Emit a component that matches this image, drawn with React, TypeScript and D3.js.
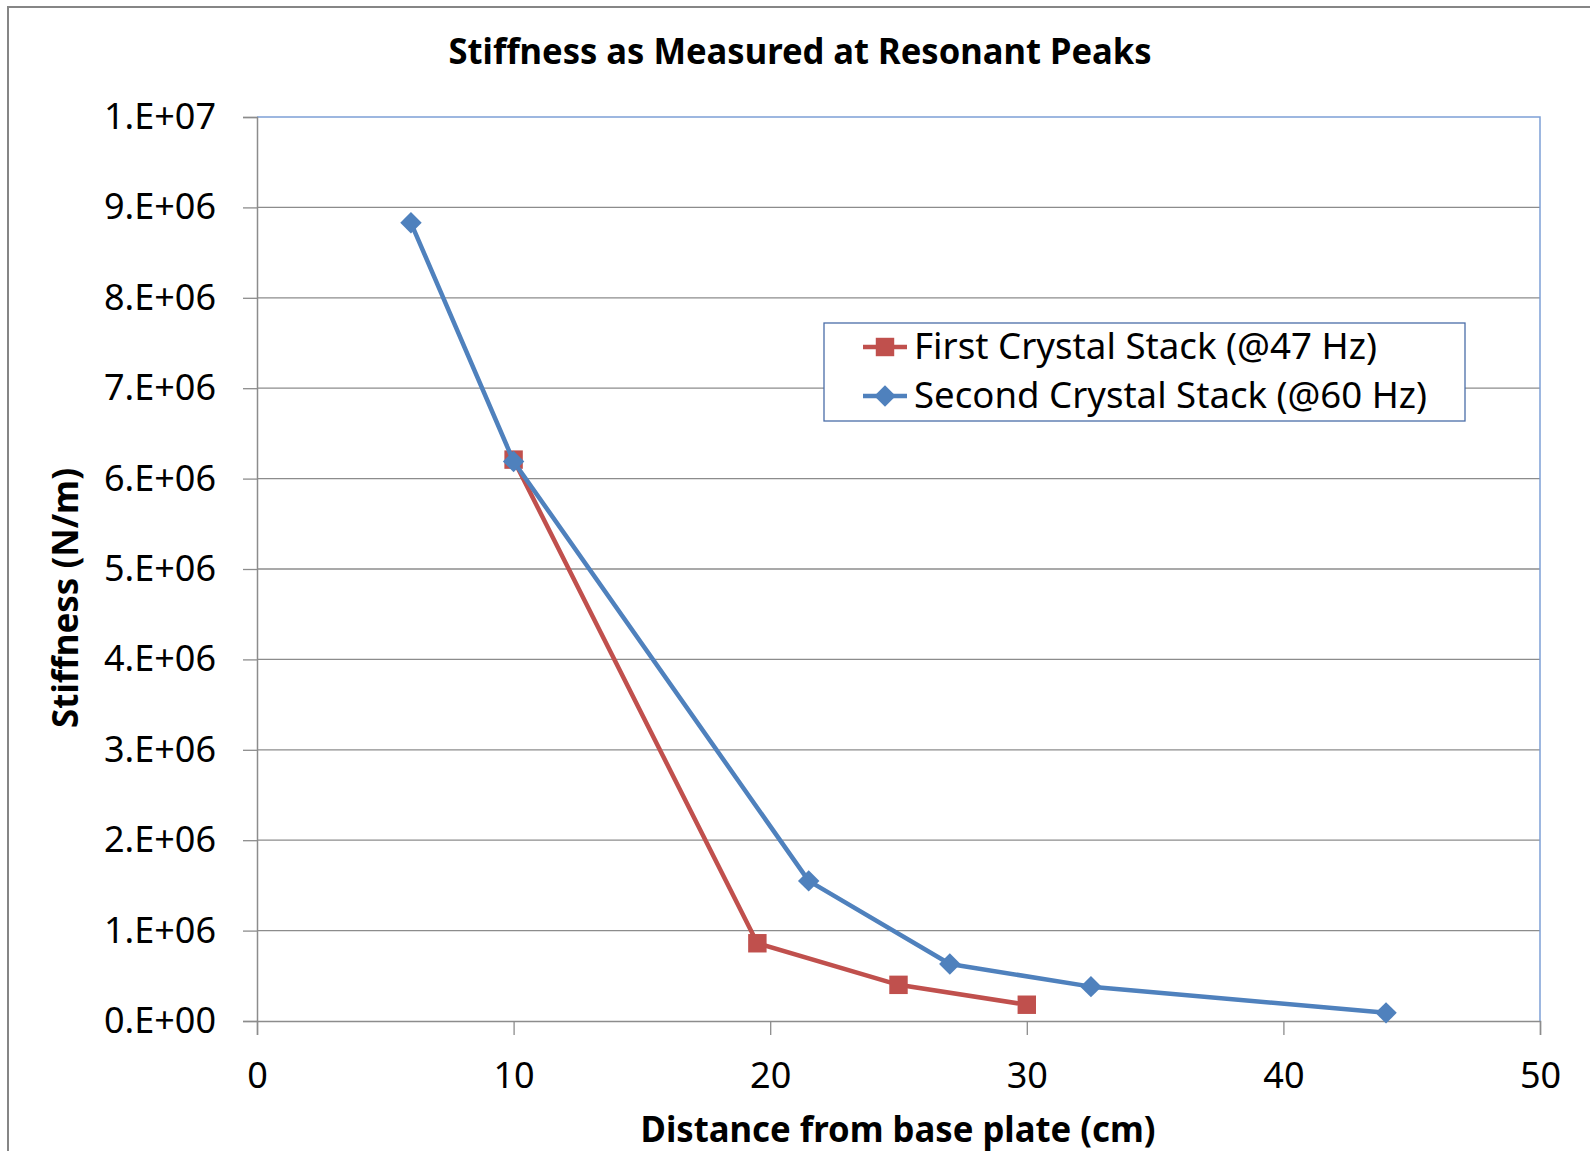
import { useEffect, useRef } from 'react';
import * as d3 from 'd3';

const firstX = [10, 19.5, 25, 30];
const firstY = [6.21e6, 8.6e5, 4.0e5, 1.8e5];
const secondX = [6, 10, 21.5, 27, 32.5, 44];
const secondY = [8.83e6, 6.19e6, 1.55e6, 6.3e5, 3.8e5, 9e4];
const xTicks = [0, 10, 20, 30, 40, 50];
const yTicks = [0, 1e6, 2e6, 3e6, 4e6, 5e6, 6e6, 7e6, 8e6, 9e6, 1e7];
const seriesNames = ['First Crystal Stack (@47 Hz)', 'Second Crystal Stack (@60 Hz)'];

const RED = '#C0504D';
const BLUE = '#4F81BD';
const FONT = '"Noto Sans", "Open Sans", sans-serif';

const App = () => {
  const svgRef = useRef<SVGSVGElement>(null);

  useEffect(() => {
    const width = 1590;
    const height = 1151;
    const margin = { top: 117, right: 50, bottom: 130, left: 257 };

    const svg = d3.select(svgRef.current).attr('width', width).attr('height', height);
    svg.selectAll('*').remove();

    svg
      .append('rect')
      .attr('x', 8)
      .attr('y', 7)
      .attr('width', 1700)
      .attr('height', 1300)
      .attr('fill', '#fff')
      .attr('stroke', '#868686')
      .attr('stroke-width', 2);

    const x = d3.scaleLinear().domain([0, 50]).range([margin.left, width - margin.right]);
    const y = d3.scaleLinear().domain([0, 1e7]).range([1021, margin.top]);

    // gridlines
    svg
      .append('g')
      .selectAll('line')
      .data(yTicks.slice(1, -1))
      .join('line')
      .attr('x1', x(0))
      .attr('x2', x(50))
      .attr('y1', (d) => y(d))
      .attr('y2', (d) => y(d))
      .attr('stroke', '#8c8c8c')
      .attr('stroke-width', 1.3);

    // plot border top/right (light blue)
    svg
      .append('path')
      .attr('d', `M${x(0)},${y(1e7)}H${x(50)}V${y(0)}`)
      .attr('fill', 'none')
      .attr('stroke', '#7EA0D6')
      .attr('stroke-width', 1.5);

    const fmt = (d: number) => {
      if (d === 0) return '0.E+00';
      const e = Math.floor(Math.log10(d));
      return `${Math.round(d / 10 ** e)}.E+${String(e).padStart(2, '0')}`;
    };

    const yAxis = svg
      .append('g')
      .attr('transform', `translate(${x(0)},0)`)
      .call(d3.axisLeft(y).tickValues(yTicks).tickFormat((d) => fmt(+d)).tickSize(14).tickPadding(27));
    yAxis.select('.domain').attr('stroke', '#8c8c8c').attr('stroke-width', 1.5);
    yAxis.selectAll('.tick line').attr('stroke', '#8c8c8c').attr('stroke-width', 1.3);
    yAxis
      .selectAll('.tick text')
      .attr('fill', '#000')
      .style('font-family', FONT)
      .style('font-size', '36px');

    const xAxis = svg
      .append('g')
      .attr('transform', `translate(0,${y(0)})`)
      .call(d3.axisBottom(x).tickValues(xTicks).tickSize(14).tickPadding(27));
    xAxis.select('.domain').attr('stroke', '#8c8c8c').attr('stroke-width', 1.5);
    xAxis.selectAll('.tick line').attr('stroke', '#8c8c8c').attr('stroke-width', 1.3);
    xAxis
      .selectAll('.tick text')
      .attr('fill', '#000')
      .style('font-family', FONT)
      .style('font-size', '36px');

    // titles
    svg
      .append('text')
      .attr('x', 800)
      .attr('y', 64)
      .attr('text-anchor', 'middle')
      .attr('textLength', 703)
      .attr('lengthAdjust', 'spacingAndGlyphs')
      .style('font-family', FONT)
      .style('font-weight', 'bold')
      .style('font-size', '35px')
      .text('Stiffness as Measured at Resonant Peaks');

    svg
      .append('text')
      .attr('x', 898)
      .attr('y', 1142)
      .attr('text-anchor', 'middle')
      .attr('textLength', 515)
      .attr('lengthAdjust', 'spacingAndGlyphs')
      .style('font-family', FONT)
      .style('font-weight', 'bold')
      .style('font-size', '35px')
      .text('Distance from base plate (cm)');

    svg
      .append('text')
      .attr('transform', 'translate(78,598) rotate(-90)')
      .attr('text-anchor', 'middle')
      .attr('textLength', 260)
      .attr('lengthAdjust', 'spacingAndGlyphs')
      .style('font-family', FONT)
      .style('font-weight', 'bold')
      .style('font-size', '35px')
      .text('Stiffness (N/m)');

    const line = d3
      .line<[number, number]>()
      .x((d) => x(d[0]))
      .y((d) => y(d[1]));

    const first = firstX.map((v, i) => [v, firstY[i]] as [number, number]);
    const second = secondX.map((v, i) => [v, secondY[i]] as [number, number]);

    const square = d3.symbol(d3.symbolSquare, 340);
    const diamond = d3.symbol(d3.symbolSquare, 230);

    svg
      .append('path')
      .datum(first)
      .attr('d', line)
      .attr('fill', 'none')
      .attr('stroke', RED)
      .attr('stroke-width', 4.5)
      .attr('stroke-linejoin', 'round');

    svg
      .append('g')
      .selectAll('path')
      .data(first)
      .join('path')
      .attr('transform', (d) => `translate(${x(d[0])},${y(d[1])})`)
      .attr('d', square)
      .attr('fill', RED);

    svg
      .append('path')
      .datum(second)
      .attr('d', line)
      .attr('fill', 'none')
      .attr('stroke', BLUE)
      .attr('stroke-width', 4.5)
      .attr('stroke-linejoin', 'round');

    svg
      .append('g')
      .selectAll('path')
      .data(second)
      .join('path')
      .attr('transform', (d) => `translate(${x(d[0])},${y(d[1])}) rotate(45)`)
      .attr('d', diamond)
      .attr('fill', BLUE);

    // legend
    const legend = svg.append('g');
    legend
      .append('rect')
      .attr('x', 824)
      .attr('y', 323)
      .attr('width', 641)
      .attr('height', 98)
      .attr('fill', '#fff')
      .attr('stroke', '#4A6DA8')
      .attr('stroke-width', 1.3);

    const colors = [RED, BLUE];
    const rows = legend
      .selectAll('g.row')
      .data(seriesNames)
      .join('g')
      .attr('class', 'row')
      .attr('transform', (_, i) => `translate(0,${347 + i * 49})`);

    rows
      .append('line')
      .attr('x1', 863)
      .attr('x2', 907)
      .attr('stroke', (_, i) => colors[i])
      .attr('stroke-width', 4.5);

    rows
      .append('path')
      .attr('transform', (_, i) => (i === 0 ? 'translate(885,0)' : 'translate(885,0) rotate(45)'))
      .attr('d', (_, i) => (i === 0 ? square() : diamond()))
      .attr('fill', (_, i) => colors[i]);

    rows
      .append('text')
      .attr('x', 914)
      .attr('y', 12)
      .attr('textLength', (_, i) => (i === 0 ? 463 : 513))
      .attr('lengthAdjust', 'spacingAndGlyphs')
      .style('font-family', FONT)
      .style('font-size', '36px')
      .text((d) => d);
  }, []);

  return (
    <div style={{ position: 'absolute', left: 0, top: 0 }}>
      <svg ref={svgRef} style={{ display: 'block' }}></svg>
    </div>
  );
};

export default App;
